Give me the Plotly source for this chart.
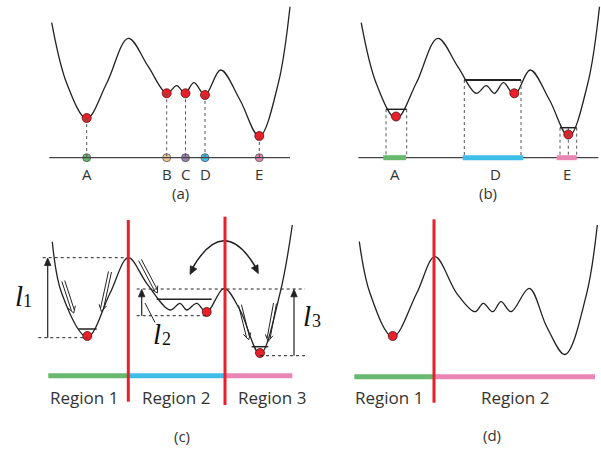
import numpy as np
import plotly.graph_objects as go

# ---------------- data (pixel-space schematic coordinates) ----------------
# Panel (a)/(b) energy landscape knots (panel (b) reuses it with an x offset)
land_x = [51.7, 66.7, 86.7, 106.7, 128.3, 148.3, 166.7, 176.7, 185, 194, 205, 220.7, 240, 259.3, 278.3, 290]
land_y = [22.7, 83.3, 118.5, 83.3, 38.3, 66.7, 93.3, 85.7, 93.3, 82.7, 95, 70, 100, 136.5, 83.3, 6.7]
panel_b_shift = 309.5

# Panel (a) minima and their axis markers
min_labels = ["A", "B", "C", "D", "E"]
min_x = [86.7, 166.7, 185.5, 205, 259.3]
min_y = [118, 93.3, 93.3, 95, 136]
min_colors = ["#66b96e", "#f4c79a", "#9a80b2", "#3fbde9", "#ea86b6"]

# Panel (c) landscape
c_x = [52.3, 61.7, 87.3, 110, 128.3, 146.7, 170, 180, 186.7, 196.7, 206.7, 224, 240, 260, 280, 292.3]
c_y = [241.7, 293.3, 337, 293.3, 257.7, 283.3, 310, 303.3, 310, 303.3, 312.3, 288.3, 310, 354, 293.3, 225]

# Panel (d) landscape
d_x = [359.3, 370, 392.7, 416.7, 435, 456.7, 475, 483.3, 492.7, 501, 511, 529.3, 546.7, 565, 586.7, 597.3]
d_y = [241.7, 293.3, 337, 293.3, 256.7, 293.3, 311.7, 303.3, 311.7, 301.7, 311.7, 288.3, 326.7, 354.5, 293.3, 225]

# Barrier-height labels l1, l2, l3
l_subs = ["1", "2", "3"]

BLACK = "#222222"
RED = "#e8202a"
GREEN, CYAN, PINK = "#66b96e", "#3fbde9", "#ea86b6"
FONT = "Open Sans, sans-serif"
SERIF = "Liberation Serif, DejaVu Serif, serif"

fig = go.Figure()

def curve(x, y, w=1.3):
    fig.add_trace(go.Scatter(x=x, y=y, mode="lines", line=dict(color=BLACK, width=w, shape="spline", smoothing=1.0),
                             hoverinfo="skip", showlegend=False))

def seg(x0, y0, x1, y1, color=BLACK, width=1.0, dash="solid"):
    fig.add_shape(type="line", x0=x0, y0=y0, x1=x1, y1=y1, line=dict(color=color, width=width, dash=dash))

def dot(x, y, color=RED, size=9):
    fig.add_trace(go.Scatter(x=[x], y=[y], mode="markers", marker=dict(color=color, size=size, line=dict(color="#5a1010" if color == RED else "#555", width=0.8)),
                             hoverinfo="skip", showlegend=False))

def text(x, y, s, size=15, family=FONT, color="#333", style="normal"):
    fig.add_annotation(x=x, y=y, text=s, showarrow=False, font=dict(size=size, family=family, color=color, style=style),
                       xanchor="center", yanchor="middle")

def head(tx, ty, dx, dy, length=7.5, half=3.2):
    u = np.array([dx, dy], float); u /= np.hypot(*u); n = np.array([-u[1], u[0]])
    tip = np.array([tx, ty]); base = tip - u * length
    p1 = base + n * half; p2 = base - n * half
    fig.add_trace(go.Scatter(x=[tip[0], p1[0], p2[0], tip[0]], y=[tip[1], p1[1], p2[1], tip[1]], mode="lines",
                             fill="toself", fillcolor=BLACK, line=dict(color=BLACK, width=0.8),
                             hoverinfo="skip", showlegend=False))

def arrow(x0, y0, x1, y1, width=1.2):
    d = np.array([x1 - x0, y1 - y0], float); u = d / np.hypot(*d)
    seg(x0, y0, x1 - u[0] * 5, y1 - u[1] * 5, width=width)
    head(x1, y1, u[0], u[1])

def double_arrow(x0, y0, x1, y1):
    d = np.array([x1 - x0, y1 - y0], float)
    L = np.hypot(*d); u = d / L; n = np.array([-u[1], u[0]])
    off = 1.5
    tip = np.array([x1, y1]) + u * 1.5
    for s in (-1, 1):
        a = np.array([x0, y0]) + s * off * n
        b = np.array([x1, y1]) - u * 1.5 + s * off * n
        seg(a[0], a[1], b[0], b[1], width=1.0)
    for s in (-1, 1):
        p = tip - u * 6.5 + s * 3.8 * n
        seg(p[0], p[1], tip[0], tip[1], width=1.0)

def ell(x, y, sub):
    text(x, y, "l", size=29, family=SERIF, color="#111", style="italic")
    text(x + 9, y + 5, sub, size=18, family=SERIF, color="#111")

# ---------------- panel (a) ----------------
curve(land_x, land_y)
seg(49.3, 157.7, 290, 157.7, color="#444", width=1.2)
for lx, ly, lc, lab in zip(min_x, min_y, min_colors, min_labels):
    seg(lx, ly, lx, 157.7, color="#555", width=1, dash="dot")
for lx, ly, lc, lab in zip(min_x, min_y, min_colors, min_labels):
    dot(lx, ly)
    dot(lx, 157.7, color=lc, size=8)
    text(lx, 173.5, lab, size=15)
text(180, 193, "(a)", size=15)

# ---------------- panel (b) ----------------
curve([x + panel_b_shift for x in land_x], land_y)
seg(358.3, 157.7, 598.3, 157.7, color="#444", width=1.2)
# dashed verticals
for xx, yy in [(386, 109.3), (406.7, 109.3), (464.3, 80), (521, 80), (560, 127.7), (568.3, 127.7), (576.7, 127.7)]:
    seg(xx, yy, xx, 157.7, color="#555", width=1, dash="dot")
# level lines
seg(386, 109.3, 406.7, 109.3, width=1.5)
seg(464.3, 80, 521, 80, width=2)
seg(560, 127.7, 576.7, 127.7, width=1.5)
# coloured ranges
seg(383.3, 157.7, 406, 157.7, color=GREEN, width=5)
seg(462.7, 157.7, 523.3, 157.7, color=CYAN, width=5)
seg(556.7, 157.7, 576.7, 157.7, color=PINK, width=5)
dot(396, 116.5)
dot(514.3, 93.3)
dot(568.3, 134.5)
text(395, 173.5, "A", size=15)
text(495, 173.5, "D", size=15)
text(567.3, 173.5, "E", size=15)
text(488, 193, "(b)", size=15)

# ---------------- panel (c) ----------------
curve(c_x, c_y)
# dotted guide lines
seg(42.7, 257.7, 128.3, 257.7, width=1, dash="dot")
seg(38.3, 337.7, 87.3, 337.7, width=1, dash="dot")
seg(136.7, 289, 305, 289, width=1, dash="dot")
seg(136.7, 315.7, 206.7, 315.7, width=1, dash="dot")
seg(260, 355.7, 305, 355.7, width=1, dash="dot")
# level lines
seg(78.3, 329, 96.7, 329, width=1.5)
seg(156.7, 299.3, 211.7, 299.3, width=1.5)
seg(251.7, 346.7, 268.3, 346.7, width=1.5)
# height arrows
arrow(47.7, 337.7, 47.7, 258.0)
arrow(141.7, 315.7, 141.7, 289.3)
arrow(294, 355.7, 294, 289.3)
seg(145, 303, 155, 322.5, width=1)
ell(18.5, 296, l_subs[0])
ell(157, 334, l_subs[1])
ell(307, 316, l_subs[2])
# sliding double arrows
double_arrow(63.3, 281, 73.3, 311.7)
double_arrow(110, 271.7, 101.7, 310)
double_arrow(140, 260, 156.7, 291.7)
double_arrow(240, 305, 248.3, 338.3)
double_arrow(275, 303.3, 268.3, 340)
# curved exchange arrow
fig.add_shape(type="path", path="M 192.5,268 Q 224,214 255.5,267", line=dict(color=BLACK, width=1.5))
head(190, 274.5, -0.45, 0.9, length=8, half=3.6)
head(258.3, 273.5, 0.45, 0.9, length=8, half=3.6)
# bars
seg(48.3, 375.7, 128.3, 375.7, color=GREEN, width=5)
seg(128.3, 375.7, 225, 375.7, color=CYAN, width=5)
seg(225, 375.7, 292.3, 375.7, color=PINK, width=5)
# red separators
seg(128.3, 220, 128.3, 401.7, color=RED, width=3)
seg(225, 216.7, 225, 405, color=RED, width=3)
dot(87.3, 336)
dot(206.7, 312)
dot(260, 353)
text(84, 397.5, "Region 1", size=17)
text(176, 397.5, "Region 2", size=17)
text(272, 397.5, "Region 3", size=17)
text(182, 436, "(c)", size=15)

# ---------------- panel (d) ----------------
curve(d_x, d_y)
seg(354.3, 376.7, 434, 376.7, color=GREEN, width=5)
seg(434, 376.7, 595, 376.7, color=PINK, width=5)
seg(434, 219.3, 434, 402.7, color=RED, width=3)
dot(392.7, 336)
text(389, 397.5, "Region 1", size=17)
text(515, 397.5, "Region 2", size=17)
text(492, 435, "(d)", size=15)

fig.update_layout(
    width=601, height=451, autosize=False,
    margin=dict(l=0, r=0, t=0, b=0),
    paper_bgcolor="white", plot_bgcolor="white",
    xaxis=dict(range=[0, 601], visible=False, fixedrange=True),
    yaxis=dict(range=[451, 0], visible=False, fixedrange=True),
    showlegend=False,
)
fig.write_html("out.html", config={"displayModeBar": False},
               post_script="document.body.style.margin='0';document.body.style.overflow='hidden';")
